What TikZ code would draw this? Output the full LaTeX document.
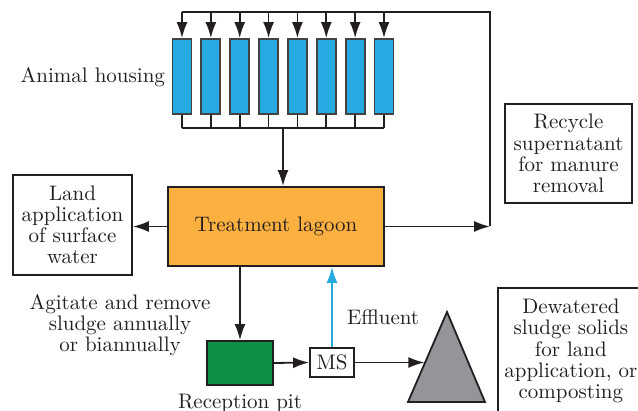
\documentclass[tikz,border=0pt]{standalone}
\usetikzlibrary{positioning, arrows.meta, calc}
\definecolor{lagoonOrange}{HTML}{FBB040}
\definecolor{pitGreen}{HTML}{0E9146}
\definecolor{stallBlue}{HTML}{27AAE1}
\definecolor{heapGray}{HTML}{939598}
\definecolor{lineDark}{HTML}{231F20}

\begin{document}
\begin{tikzpicture}[
  x=0.5pt, y=-0.5pt,
  % Styles
  every node/.style={font=\fontsize{10.5}{10.6}\selectfont, text=lineDark},
  stall/.style={
    rectangle, draw=lineDark!85, line width=0.9pt, fill=stallBlue,
    minimum width=9.5pt, minimum height=37.5pt, inner sep=0pt
  },
  lagoonbox/.style={
    rectangle, draw=lineDark, line width=0.9pt, fill=lagoonOrange,
    minimum width=108pt, minimum height=39.5pt
  },
  outbox/.style={
    rectangle, draw=lineDark, line width=0.9pt, fill=white,
    align=center, inner sep=1pt
  },
  flow/.style={-{Latex[length=8pt, width=5.5pt]}, line width=0.9pt, draw=lineDark},
  pipe/.style={line width=0.9pt, draw=lineDark},
]
\useasboundingbox (0,0) rectangle (638,411);
\clip (0,0) rectangle (638,411);

% === COORDINATES ===
\coordinate (topline) at (0,12);
\coordinate (collector) at (0,128);
\coordinate (turn) at (490,227);

% === ANIMAL HOUSING ===
\foreach \i in {0,...,7} {
  \node[stall] (stall\i) at ({182+28.857*\i}, 76.5) {};
  \draw[flow] (stall\i.north |- topline) -- (stall\i.north);
  \draw[pipe] (stall\i.south) -- (stall\i.south |- collector);
}
\draw[pipe] (stall0.south |- collector) -- (stall7.south |- collector);
\node[anchor=east] (housing) at (172,77) {Animal housing};

% === TREATMENT LAGOON ===
\node[lagoonbox] (lagoon) at (276,226.5) {Treatment lagoon};
\coordinate (drop) at ($(stall0.south |- collector)!0.5!(stall7.south |- collector)$);
\draw[flow] (drop) -- (drop |- lagoon.north);

% === LAND APPLICATION ===
\node[outbox, minimum width=59.5pt, minimum height=50pt] (land) at (72.5,225)
  {Land\\application\\of surface\\water};
\draw[flow] (lagoon.west) -- (lagoon.west -| land.east);

% === RECYCLE LOOP ===
\node[outbox, minimum width=63.5pt, minimum height=49.5pt] (recycle) at (568.5,153.5)
  {Recycle\\supernatant\\for manure\\removal};
\draw[flow] (lagoon.east) -- (lagoon.east -| turn);
\draw[pipe] (lagoon.east -| turn) -- (turn |- topline) -- (stall0.north |- topline);

% === SLUDGE HANDLING ===
\node[align=center] (agitate) at (120,325) {Agitate and remove\\sludge annually\\or biannually};
\node[rectangle, draw=lineDark, line width=0.9pt, fill=pitGreen,
  minimum width=33pt, minimum height=22pt] (pit) at (240,363) {};
\node (pitlabel) at (240,403) {Reception pit};
\draw[flow] (lagoon.south -| pit.north) -- (pit.north);

\node[outbox, minimum width=22pt, minimum height=14.5pt] (ms) at (332,362.5) {MS};
\draw[flow] (pit.east) -- (ms.west);
\draw[flow, draw=stallBlue] (ms.north) -- (ms.north |- lagoon.south);
\node[anchor=west] (effluent) at (340,317) {Effluent};

% === SLUDGE HEAP ===
\coordinate (apex) at (447,312);
\coordinate (heapL) at (408,402);
\coordinate (heapR) at (485,402);
\draw[pipe, fill=heapGray] (apex) -- (heapR) -- (heapL) -- cycle;
\coordinate (heapin) at ($(apex)!0.58!(heapL)$);
\draw[flow] (ms.east) -- (ms.east -| heapin);

\node[outbox, minimum width=73pt, minimum height=63pt, anchor=north west] (dewater) at (497,287)
  {Dewatered\\sludge solids\\for land\\application, or\\composting};

\end{tikzpicture}
\end{document}
